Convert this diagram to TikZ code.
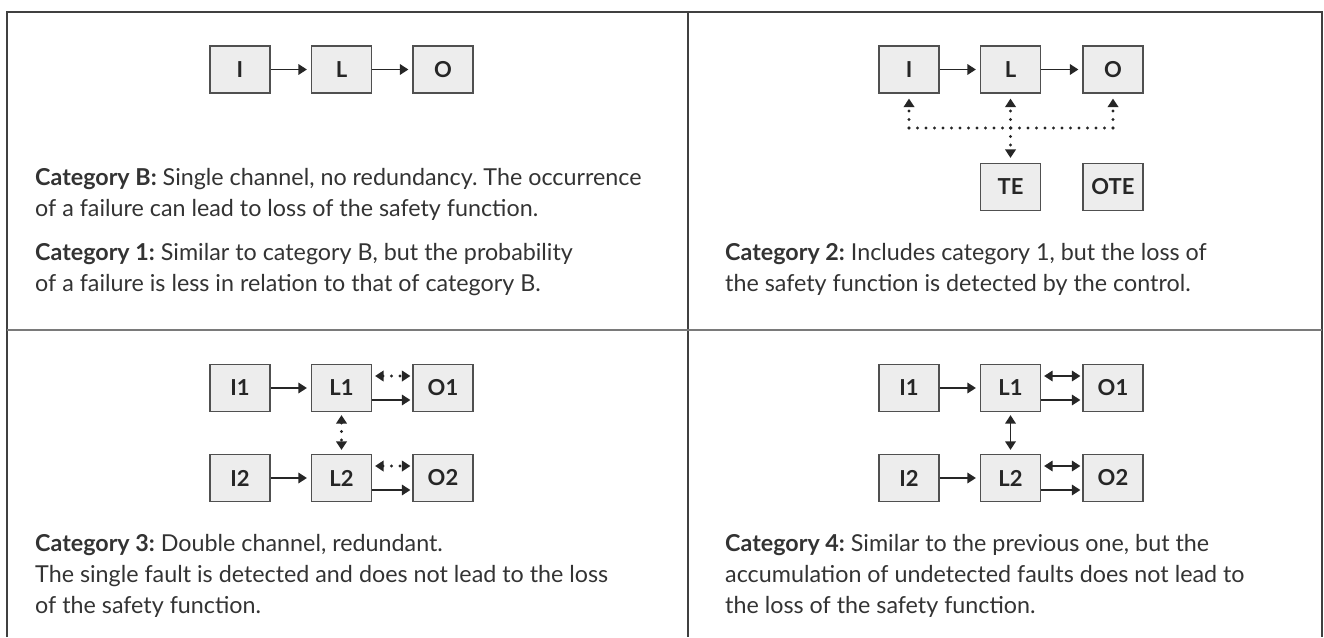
\documentclass[tikz,border=0pt]{standalone}
\usepackage{fontspec}
\setmainfont{Lato}
\frenchspacing
\usetikzlibrary{arrows.meta}

\definecolor{framegray}{HTML}{404040}
\definecolor{rulegray}{HTML}{7A7A7A}
\definecolor{boxfill}{HTML}{EDEDED}
\definecolor{boxline}{HTML}{505050}
\definecolor{textgray}{HTML}{333333}

\tikzset{
  blk/.style={draw=boxline, fill=boxfill, line width=1.2pt, minimum width=60pt,
    minimum height=47pt, inner sep=0pt, text=black!85,
    font=\fontsize{22}{22}\selectfont\bfseries},
  arr/.style={-{Triangle[length=8.5pt,width=10.5pt]}, line width=1.7pt, black!85},
  darr/.style={{Triangle[length=8.5pt,width=10.5pt]}-{Triangle[length=8.5pt,width=10.5pt]},
    line width=1.7pt, black!85},
  dots/.style={line width=3.2pt, line cap=round, dash pattern=on 0pt off 8.5pt, black!85},
  desc/.style={anchor=base west, align=left, inner sep=0pt, text=textgray,
    font=\fontsize{23.3}{31}\selectfont}
}

\begin{document}
\begin{tikzpicture}[x=1pt, y=-1pt]
\useasboundingbox (0,0) rectangle (1324,637);

% Frame of the table
\draw[framegray, line width=1.6pt] (7,637) -- (7,12) -- (1322,12) -- (1322,637);
\draw[framegray, line width=1.6pt] (688,12) -- (688,637);
\draw[rulegray, line width=1.6pt] (7,330) -- (1322,330);

% Category B / 1
\node[blk] (aI) at (240,69.5) {I};
\node[blk] (aL) at (341.5,69.5) {L};
\node[blk] (aO) at (443,69.5) {O};
\draw[arr, shorten >=4pt] (aI) -- (aL);
\draw[arr, shorten >=4pt] (aL) -- (aO);
\node[desc] (txtB) at (35,216) {\textbf{Category B:} Single channel, no redundancy. The occurrence\\of a failure can lead to loss of the safety function.};
\node[desc] (txt1) at (35,291) {\textbf{Category 1:} Similar to category B, but the probability\\of a failure is less in relation to that of category B.};

% Category 2
\node[blk] (bI) at (909,69.5) {I};
\node[blk] (bL) at (1010.5,69.5) {L};
\node[blk] (bO) at (1113,69.5) {O};
\node[blk] (bTE) at (1010.5,187) {TE};
\node[blk] (bOTE) at (1113,187) {OTE};
\draw[arr, shorten >=4pt] (bI) -- (bL);
\draw[arr, shorten >=4pt] (bL) -- (bO);
\coordinate (bhub) at (1010.5,128);
\draw[dots] (bI.south |- bhub) -- (bO.south |- bhub);
\draw[dots, -{Triangle[length=8.5pt,width=10.5pt]}, shorten >=5pt] (bI.south |- bhub) -- (bI);
\draw[dots, -{Triangle[length=8.5pt,width=10.5pt]}, shorten >=5pt] (bhub) -- (bL);
\draw[dots, -{Triangle[length=8.5pt,width=10.5pt]}, shorten >=5pt] (bO.south |- bhub) -- (bO);
\draw[dots, -{Triangle[length=8.5pt,width=10.5pt]}, shorten >=5pt] (bhub) -- (bTE);
\node[desc] (txt2) at (725,291) {\textbf{Category 2:} Includes category 1, but the loss of\\the safety function is detected by the control.};

% Category 3
\node[blk] (cI1) at (240,388) {I1};
\node[blk] (cL1) at (341.5,388) {L1};
\node[blk] (cO1) at (443,388) {O1};
\node[blk] (cI2) at (240,478) {I2};
\node[blk] (cL2) at (341.5,478) {L2};
\node[blk] (cO2) at (443,478) {O2};
\draw[arr, shorten >=4pt] (cI1) -- (cL1);
\draw[arr, shorten >=4pt] (cI2) -- (cL2);
\foreach \r in {1,2}{
  \draw[arr, shorten >=2pt] ([yshift=-12pt]cL\r.east) -- ([yshift=-12pt]cO\r.west);
  \draw[dots, {Triangle[length=8.5pt,width=10.5pt]}-{Triangle[length=8.5pt,width=10.5pt]},
    shorten <=3pt, shorten >=2pt] ([yshift=12pt]cL\r.east) -- ([yshift=12pt]cO\r.west);
}
\draw[dots, {Triangle[length=8.5pt,width=10.5pt]}-{Triangle[length=8.5pt,width=10.5pt]},
  shorten <=3pt, shorten >=4pt] (cL1) -- (cL2);
\node[desc] (txt3) at (35,613) {\textbf{Category 3:} Double channel, redundant.\\The single fault is detected and does not lead to the loss\\of the safety function.};

% Category 4
\node[blk] (dI1) at (909,388) {I1};
\node[blk] (dL1) at (1010.5,388) {L1};
\node[blk] (dO1) at (1113,388) {O1};
\node[blk] (dI2) at (909,478) {I2};
\node[blk] (dL2) at (1010.5,478) {L2};
\node[blk] (dO2) at (1113,478) {O2};
\draw[arr, shorten >=4pt] (dI1) -- (dL1);
\draw[arr, shorten >=4pt] (dI2) -- (dL2);
\foreach \r in {1,2}{
  \draw[arr, shorten >=2pt] ([yshift=-12pt]dL\r.east) -- ([yshift=-12pt]dO\r.west);
  \draw[darr, shorten <=3pt, shorten >=2pt] ([yshift=12pt]dL\r.east) -- ([yshift=12pt]dO\r.west);
}
\draw[darr, shorten <=3pt, shorten >=4pt] (dL1) -- (dL2);
\node[desc] (txt4) at (725,613) {\textbf{Category 4:} Similar to the previous one, but the\\accumulation of undetected faults does not lead to\\the loss of the safety function.};
\end{tikzpicture}
\end{document}
